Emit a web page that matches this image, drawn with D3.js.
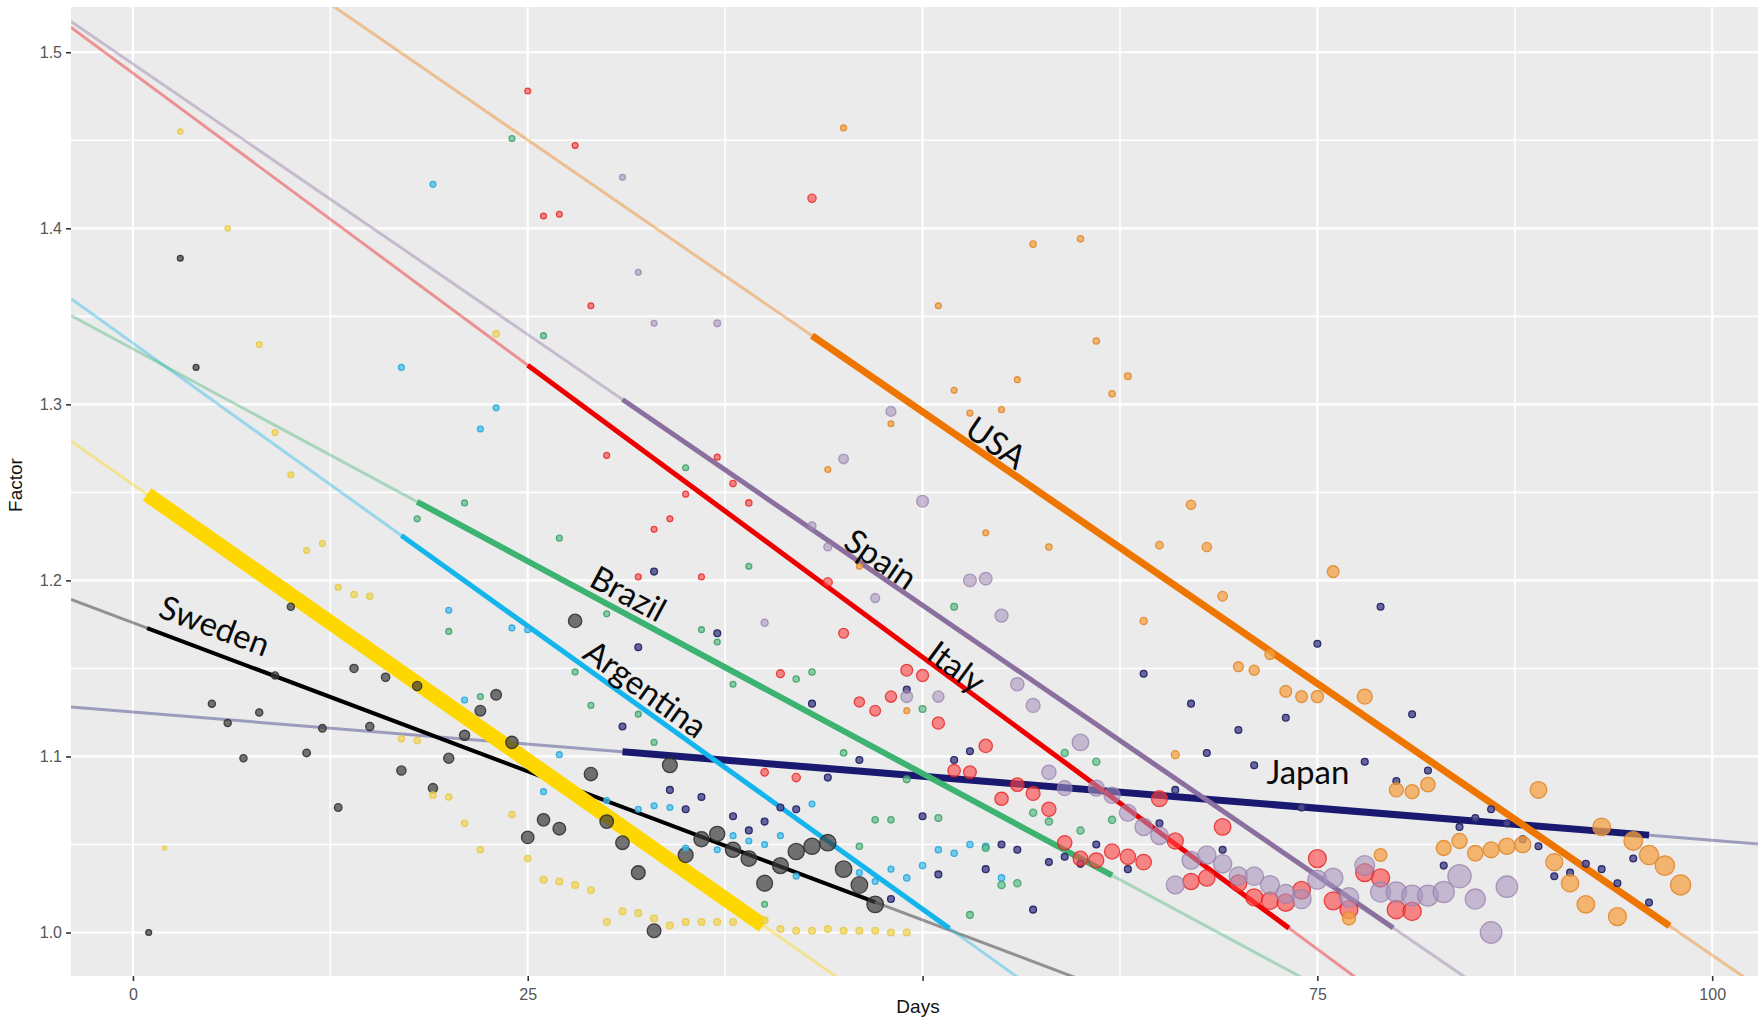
<!DOCTYPE html>
<html>
<head>
<meta charset="utf-8">
<script src="https://cdn.jsdelivr.net/npm/d3@7"></script>
<style>
  body { margin: 0; background: #ffffff; }
  svg { display: block; }
</style>
</head>
<body>
<svg id="chart" width="1761" height="1021"></svg>
<script>
// ---- Data -------------------------------------------------------------
// Series, in drawing order
const countries = ["Japan", "Sweden", "Gold", "Argentina", "Brazil", "Italy", "Spain", "USA"];
const labels    = ["Japan", "Sweden", "",     "Argentina", "Brazil", "Italy", "Spain", "USA"];

// Linear fit per series: Factor = intercept + slope * Days
const fitIntercepts = [1.1252, 1.1760, 1.2545, 1.3348, 1.3315, 1.4881, 1.4934, 1.6045];
const fitSlopes     = [-0.000728, -0.003378, -0.006277, -0.00643, -0.004824, -0.006634, -0.00615, -0.006174];
const fitStart      = [31.0, 0.9, 0.9, 17.0, 18.0, 25.0, 31.0, 43.0];
const fitEnd        = [96.0, 47.0, 39.9, 51.7, 62.0, 73.2, 79.8, 97.3];

// Daily observations: [day, factor, weight]
const japanPoints = [
  [31,1.117,8],[32,1.162,8],[33,1.205,8],[34,1.081,8],[35,1.070,8],[36,1.077,8],[37,1.170,8],
  [38,1.066,8],[39,1.058,8],[40,1.063,8],[41,1.071,8],[42,1.070,8],[43,1.130,8],[44,1.088,8],
  [46,1.098,8],[48,1.019,8],[49,1.138,8],[50,1.066,8],[51,1.033,8],[52,1.098,8],[53,1.103,8],
  [54,1.036,8],[55,1.050,8],[56,1.047,8],[57,1.013,8],[58,1.040,8],[59,1.043,8],[60,1.039,8],
  [61,1.050,8],[63,1.036,8],[64,1.147,8],[65,1.062,8],[66,1.081,8],[67,1.130,8],[68,1.102,8],
  [69,1.047,8],[70,1.115,8],[71,1.095,8],[73,1.122,8],[74,1.071,8],[75,1.164,8],[78,1.097,8],
  [79,1.185,8],[80,1.086,8],[81,1.124,8],[82,1.092,8],[83,1.038,8],[84,1.060,8],[85,1.065,8],
  [86,1.070,8],[87,1.062,8],[88,1.053,8],[89,1.049,8],[90,1.032,8],[91,1.034,8],[92,1.039,8],
  [93,1.036,8],[94,1.028,8],[95,1.042,8],[96,1.017,8]
];
const swedenPoints = [
  [1,1.000,6],[3,1.383,6],[4,1.321,6],[5,1.130,9],[6,1.119,9],[7,1.099,9],[8,1.125,9],
  [9,1.146,9],[10,1.185,9],[11,1.102,10],[12,1.116,10],[13,1.071,10],[14,1.150,12],[15,1.117,12],
  [16,1.145,12],[17,1.092,15],[18,1.140,15],[19,1.082,15],[20,1.099,18],[21,1.112,18],[22,1.126,20],
  [23,1.135,20],[24,1.108,26],[25,1.054,27],[26,1.064,27],[27,1.059,28],[28,1.177,31],[29,1.090,31],
  [30,1.063,32],[31,1.051,32],[32,1.034,33],[33,1.001,33],[34,1.095,38],[35,1.044,39],[36,1.053,40],
  [37,1.056,40],[38,1.047,41],[39,1.042,42],[40,1.028,44],[41,1.038,44],[42,1.046,46],[43,1.049,46],
  [44,1.051,47],[45,1.036,47],[46,1.027,48],[47,1.016,48]
];
const goldPoints = [
  [2,1.048,3],[3,1.455,5],[6,1.400,5],[8,1.334,6],[9,1.284,6],[10,1.260,6],[11,1.217,6],
  [12,1.221,6],[13,1.196,6],[14,1.192,7],[15,1.191,7],[17,1.110,7],[18,1.109,7],[19,1.078,7],
  [20,1.077,7],[21,1.062,7],[22,1.047,7],[23,1.340,7],[24,1.067,7],[25,1.042,7],[26,1.030,8],
  [27,1.029,8],[28,1.027,8],[29,1.024,8],[30,1.006,8],[31,1.012,8],[32,1.011,8],[33,1.008,8],
  [34,1.004,8],[35,1.006,8],[36,1.006,8],[37,1.006,8],[38,1.006,8],[40,1.007,8],[41,1.002,8],
  [42,1.001,8],[43,1.001,8],[44,1.002,8],[45,1.001,8],[46,1.001,8],[47,1.001,8],[48,1.000,8],
  [49,1.000,8]
];
const argentinaPoints = [
  [17,1.321,6],[19,1.425,6],[20,1.183,6],[21,1.132,6],[22,1.286,6],[23,1.298,6],[24,1.173,6],
  [25,1.172,6],[26,1.080,6],[27,1.101,6],[30,1.075,6],[32,1.070,6],[33,1.072,6],[34,1.071,6],
  [35,1.048,6],[37,1.047,6],[38,1.055,6],[39,1.052,6],[40,1.050,6],[41,1.055,6],[42,1.032,6],
  [43,1.073,6],[46,1.034,6],[47,1.029,6],[48,1.036,6],[49,1.031,7],[50,1.038,7],[51,1.047,7],
  [52,1.045,7],[53,1.050,7],[54,1.049,7],[55,1.031,7]
];
const brazilPoints = [
  [18,1.235,6],[20,1.171,6],[21,1.244,6],[22,1.134,6],[24,1.451,6],[26,1.339,6],[27,1.224,6],
  [28,1.148,6],[29,1.129,6],[30,1.181,6],[32,1.124,6],[33,1.108,6],[35,1.264,6],[36,1.172,6],
  [37,1.165,6],[38,1.141,6],[39,1.208,6],[40,1.016,6],[42,1.144,7],[43,1.148,7],[45,1.102,7],
  [46,1.049,7],[47,1.064,7],[48,1.064,7],[49,1.087,8],[50,1.127,8],[51,1.065,8],[52,1.185,8],
  [53,1.010,8],[54,1.048,8],[55,1.027,9],[56,1.028,9],[57,1.068,9],[58,1.063,9],[59,1.102,9],
  [60,1.058,9],[61,1.097,9],[62,1.064,9]
];
const italyPoints = [
  [25,1.478,6],[26,1.407,6],[27,1.408,6],[28,1.447,6],[29,1.356,6],[30,1.271,6],[32,1.202,6],
  [33,1.229,6],[34,1.235,6],[35,1.249,6],[36,1.202,6],[37,1.270,6],[38,1.255,7],[39,1.244,7],
  [40,1.091,10],[41,1.147,11],[42,1.088,12],[43,1.417,12],[44,1.199,14],[45,1.170,17],[46,1.131,18],
  [47,1.126,20],[48,1.134,22],[49,1.149,24],[50,1.146,25],[51,1.119,26],[52,1.092,27],[53,1.091,28],
  [54,1.106,31],[55,1.076,31],[56,1.084,32],[57,1.079,34],[58,1.070,35],[59,1.051,36],[60,1.042,38],
  [61,1.041,39],[62,1.046,40],[63,1.043,41],[64,1.040,42],[65,1.076,44],[66,1.052,45],[67,1.029,46],
  [68,1.031,47],[69,1.060,48],[70,1.028,49],[71,1.020,50],[72,1.018,51],[73,1.017,52],[74,1.024,54],
  [75,1.042,56],[76,1.018,56],[77,1.013,56],[78,1.034,57],[79,1.031,57],[80,1.013,58],[81,1.012,58]
];
const spainPoints = [
  [31,1.429,6],[32,1.375,6],[33,1.346,6],[37,1.346,8],[40,1.176,9],[43,1.231,11],[44,1.219,11],
  [45,1.269,16],[47,1.190,14],[48,1.296,17],[49,1.134,24],[50,1.245,24],[51,1.134,22],[53,1.200,28],
  [54,1.201,28],[55,1.180,30],[56,1.141,31],[57,1.129,34],[58,1.091,36],[59,1.082,38],[60,1.108,48],
  [61,1.082,44],[62,1.078,46],[63,1.068,50],[64,1.060,52],[65,1.055,54],[66,1.027,56],[67,1.041,56],
  [68,1.044,58],[69,1.039,58],[70,1.032,60],[71,1.032,60],[72,1.027,62],[73,1.022,62],[74,1.019,64],
  [75,1.030,64],[76,1.031,66],[77,1.020,66],[78,1.038,68],[79,1.023,70],[80,1.023,72],[81,1.021,74],
  [82,1.021,76],[83,1.023,78],[84,1.032,94],[85,1.019,70],[86,1.000,81],[87,1.026,80]
];
const usaPoints = [
  [44,1.263,6],[45,1.457,6],[46,1.208,6],[48,1.289,6],[49,1.126,6],[51,1.356,6],[52,1.308,6],
  [53,1.295,6],[54,1.227,6],[55,1.297,6],[56,1.314,6],[57,1.391,7],[58,1.219,7],[60,1.394,7],
  [61,1.336,7],[62,1.306,7],[63,1.316,8],[64,1.177,9],[65,1.220,10],[66,1.101,11],[67,1.243,15],
  [68,1.219,15],[69,1.191,16],[70,1.151,17],[71,1.149,18],[72,1.158,18],[73,1.137,24],[74,1.134,24],
  [75,1.134,26],[76,1.205,24],[77,1.008,30],[78,1.134,39],[79,1.044,28],[80,1.081,34],[81,1.080,34],
  [82,1.084,36],[83,1.048,39],[84,1.052,40],[85,1.045,42],[86,1.047,44],[87,1.049,46],[88,1.050,46],
  [89,1.081,48],[90,1.040,50],[91,1.028,52],[92,1.016,54],[93,1.060,54],[94,1.009,56],[95,1.052,60],
  [96,1.044,64],[97,1.038,66],[98,1.027,70]
];
const seriesPoints = [japanPoints, swedenPoints, goldPoints, argentinaPoints, brazilPoints,
                      italyPoints, spainPoints, usaPoints];

// Axis ticks (the 50 tick carries no label: the axis title sits there)
const xTicks = [0, 25, 50, 75, 100];
const xTickLabels = ["0", "25", "", "75", "100"];
const xMinorTicks = [12.5, 37.5, 62.5, 87.5];
const yTicks = [1.0, 1.1, 1.2, 1.3, 1.4, 1.5];
const yTickLabels = ["1.0", "1.1", "1.2", "1.3", "1.4", "1.5"];
const yMinorTicks = [1.05, 1.15, 1.25, 1.35, 1.45];

// ---- Styling ------------------------------------------------------------
const lineColors  = ["#191970", "#000000", "#ffd700", "#14b4ec", "#3cb371", "#ee0000", "#8b6f9e", "#ee7600"];
const pointFills  = ["#4f4f92", "#3c3c3c", "#f0d54a", "#45c2ef", "#5dbf86", "#ff4545", "#a792bd", "#f5a245"];
const pointStroke = ["#2a2a6c", "#2b2b2b", "#e6c84a", "#2aa9dc", "#3c9f66", "#e41c1c", "#9580ad", "#e08a2e"];
const pointAlpha  = [0.85, 0.7, 0.7, 0.75, 0.7, 0.62, 0.58, 0.75];
const thickWidths = [7, 4, 15, 5, 6, 5, 5, 7];
// label placement along each fit: day of the label centre, lift above the line in px
const labelDay    = [74.4, 5.2, null, 32.5, 31.4, 52.2, 47.4, 54.7];
const labelLift   = [36, 29, 0, 23, 23, 17, 19, 21];
const labelFlat   = [true, false, false, false, false, false, false, false];

// ---- Layout -------------------------------------------------------------
const panel = { left: 71, right: 1758, top: 7, bottom: 976 };
const x = d3.scaleLinear().domain([-3.92, 102.9]).range([panel.left, panel.right]);
const y = d3.scaleLinear().domain([0.9753, 1.5257]).range([panel.bottom, panel.top]);
const r = d3.scaleSqrt().domain([0, 100]).range([0, 12]);

const svg = d3.select("#chart");

svg.append("defs").append("clipPath").attr("id", "panel-clip")
  .append("rect")
  .attr("x", panel.left).attr("y", panel.top)
  .attr("width", panel.right - panel.left).attr("height", panel.bottom - panel.top);

// panel background
svg.append("rect")
  .attr("x", panel.left).attr("y", panel.top)
  .attr("width", panel.right - panel.left).attr("height", panel.bottom - panel.top)
  .attr("fill", "#ebebeb");

// grid
const grid = svg.append("g").attr("stroke", "#ffffff");
grid.selectAll(".vminor").data(xMinorTicks).join("line")
  .attr("x1", d => x(d)).attr("x2", d => x(d))
  .attr("y1", panel.top).attr("y2", panel.bottom).attr("stroke-width", 1.6);
grid.selectAll(".hminor").data(yMinorTicks).join("line")
  .attr("y1", d => y(d)).attr("y2", d => y(d))
  .attr("x1", panel.left).attr("x2", panel.right).attr("stroke-width", 1.6);
grid.selectAll(".vmajor").data(xTicks).join("line")
  .attr("x1", d => x(d)).attr("x2", d => x(d))
  .attr("y1", panel.top).attr("y2", panel.bottom).attr("stroke-width", 2.2);
grid.selectAll(".hmajor").data(yTicks).join("line")
  .attr("y1", d => y(d)).attr("y2", d => y(d))
  .attr("x1", panel.left).attr("x2", panel.right).attr("stroke-width", 2.2);

// axes
const xAxis = d3.axisBottom(x).tickValues(xTicks).tickSize(5).tickPadding(8)
  .tickFormat((d, i) => xTickLabels[i]);
const yAxis = d3.axisLeft(y).tickValues(yTicks).tickSize(5).tickPadding(4)
  .tickFormat((d, i) => yTickLabels[i]);

const gx = svg.append("g").attr("transform", `translate(0,${panel.bottom})`).call(xAxis);
const gy = svg.append("g").attr("transform", `translate(${panel.left},0)`).call(yAxis);
[gx, gy].forEach(g => {
  g.select(".domain").remove();
  g.selectAll(".tick line").attr("stroke", "#333333").attr("stroke-width", 1.6);
  g.selectAll(".tick text")
    .attr("fill", "#555555")
    .style("font-family", "'Liberation Sans', Arial, sans-serif")
    .style("font-size", "16px");
});

svg.append("text")
  .attr("x", 918).attr("y", 1013)
  .attr("text-anchor", "middle")
  .style("font-family", "'Liberation Sans', Arial, sans-serif")
  .style("font-size", "19px").attr("fill", "#111")
  .text("Days");

svg.append("text")
  .attr("transform", `translate(22,485) rotate(-90)`)
  .attr("text-anchor", "middle")
  .style("font-family", "'Liberation Sans', Arial, sans-serif")
  .style("font-size", "19px").attr("fill", "#111")
  .text("Factor");

// ---- Marks ----------------------------------------------------------------
const plot = svg.append("g").attr("clip-path", "url(#panel-clip)");
const fit = (i, d) => fitIntercepts[i] + fitSlopes[i] * d;
const [dMin, dMax] = x.domain();

// faint full-range fit lines
plot.append("g").selectAll("line").data(countries).join("line")
  .attr("x1", x(dMin)).attr("x2", x(dMax))
  .attr("y1", (c, i) => y(fit(i, dMin)))
  .attr("y2", (c, i) => y(fit(i, dMax)))
  .attr("stroke", (c, i) => lineColors[i])
  .attr("stroke-opacity", 0.38)
  .attr("stroke-width", 3);

// fitted segments over each series' range
plot.append("g").selectAll("line").data(countries).join("line")
  .attr("x1", (c, i) => x(fitStart[i])).attr("x2", (c, i) => x(fitEnd[i]))
  .attr("y1", (c, i) => y(fit(i, fitStart[i])))
  .attr("y2", (c, i) => y(fit(i, fitEnd[i])))
  .attr("stroke", (c, i) => lineColors[i])
  .attr("stroke-width", (c, i) => thickWidths[i]);

// observations
countries.forEach((c, i) => {
  plot.append("g").selectAll("circle").data(seriesPoints[i]).join("circle")
    .attr("cx", d => x(d[0]))
    .attr("cy", d => y(d[1]))
    .attr("r", d => r(d[2]))
    .attr("fill", pointFills[i])
    .attr("fill-opacity", pointAlpha[i])
    .attr("stroke", pointStroke[i])
    .attr("stroke-opacity", Math.min(1, pointAlpha[i] + 0.15))
    .attr("stroke-width", 1.3);
});

// series labels laid along their fit lines
countries.forEach((c, i) => {
  if (!labels[i]) return;
  const d = labelDay[i];
  const px = x(d);
  const py = y(fit(i, d)) - labelLift[i];
  const ang = labelFlat[i] ? 0 :
    Math.atan2(y(fit(i, d + 10)) - y(fit(i, d)), x(d + 10) - x(d)) * 180 / Math.PI;
  svg.append("text")
    .attr("transform", `translate(${px},${py}) rotate(${ang})`)
    .attr("text-anchor", "middle")
    .attr("dominant-baseline", "central")
    .style("font-family", "Lato, 'Open Sans', sans-serif")
    .style("font-size", "33px")
    .attr("fill", "#0a0a0a")
    .text(labels[i]);
});
</script>
</body>
</html>
